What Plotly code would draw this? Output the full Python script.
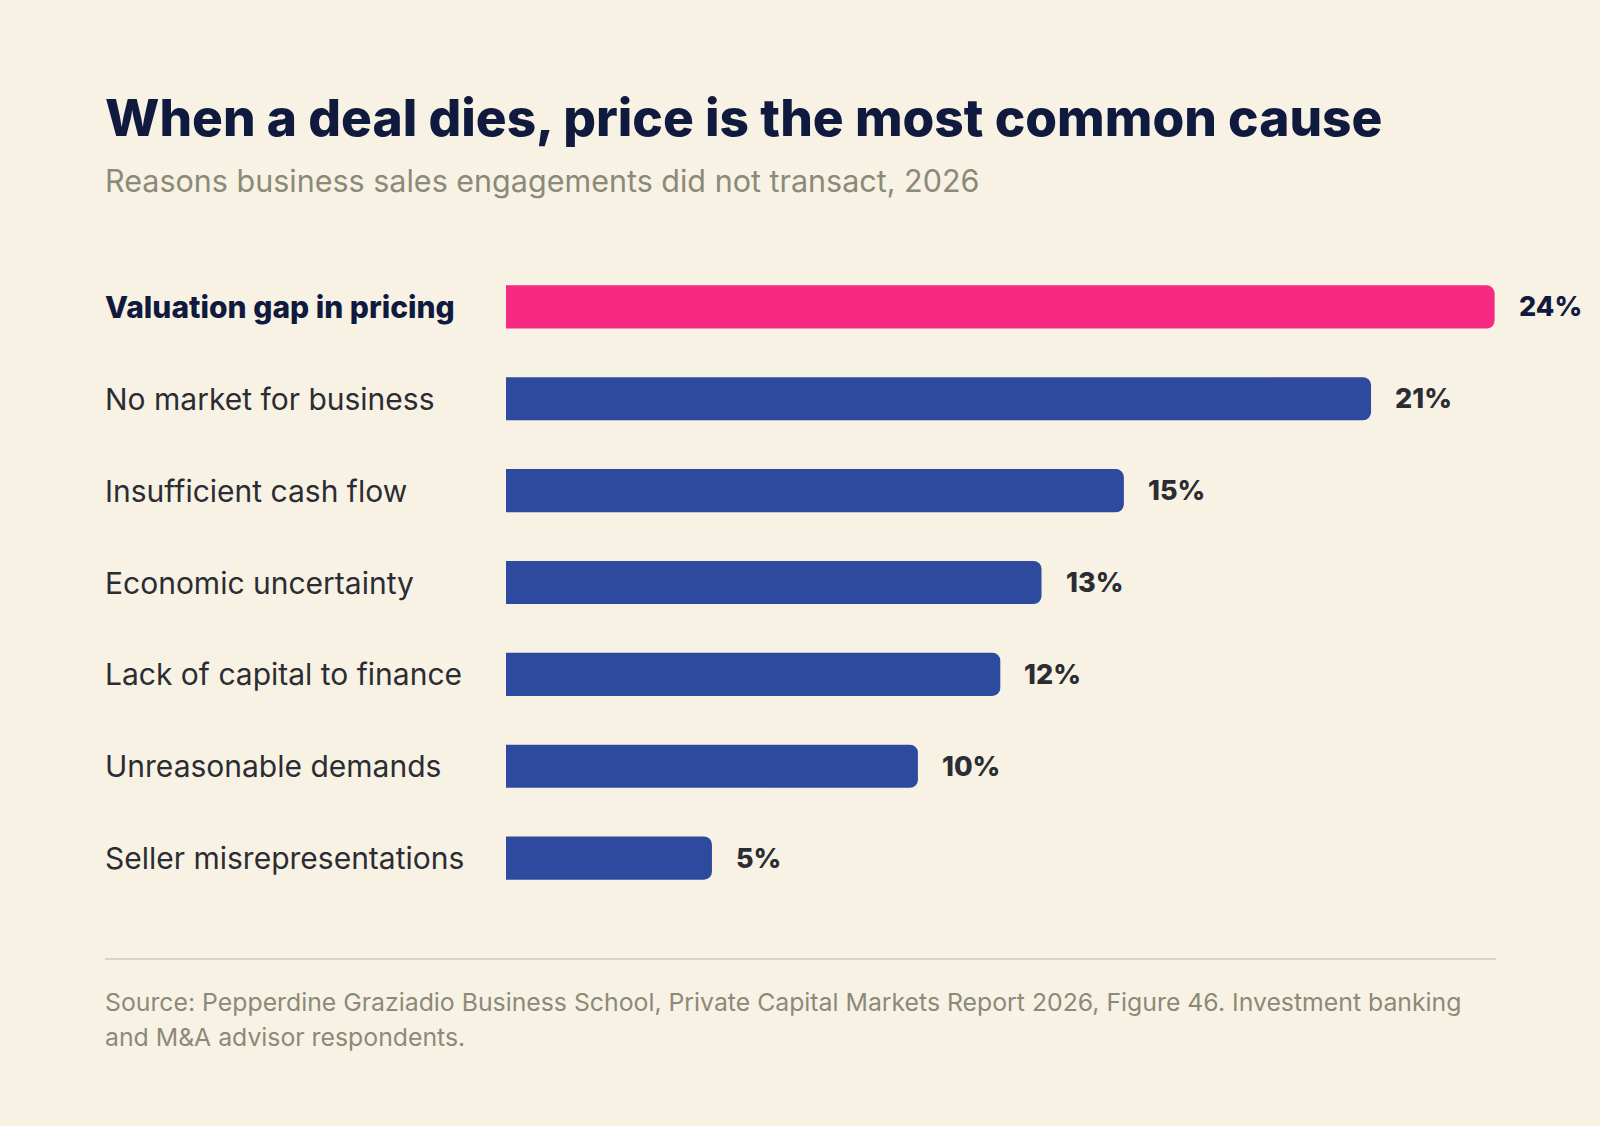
import plotly.graph_objects as go

# data
reasons = [
    "Valuation gap in pricing",
    "No market for business",
    "Insufficient cash flow",
    "Economic uncertainty",
    "Lack of capital to finance",
    "Unreasonable demands",
    "Seller misrepresentations",
]
shares = [24, 21, 15, 13, 12, 10, 5]
highlight = "Valuation gap in pricing"

title = "When a deal dies, price is the most common cause"
subtitle = "Reasons business sales engagements did not transact, 2026"
source_lines = [
    "Source: Pepperdine Graziadio Business School, Private Capital Markets Report 2026, "
    "Figure 46. Investment banking",
    "and M&A advisor respondents.",
]

# page geometry
W, H = 1600, 1126
L, R, T, B = 506, 23, 261, 222
PW, PH = W - L - R, H - T - B

BG = "#f8f2e4"
NAVY = "#101a3e"
BLUE = "#2e4a9e"
PINK = "#f72a82"
DARK = "#2b2d33"
GREY = "#8b8a78"
FONT = "Inter, 'Noto Sans', sans-serif"


def px_x(px):
    return (px - L) / PW


def px_y(py):
    return (T + PH - py) / PH


colors = [PINK if r == highlight else BLUE for r in reasons]

fig = go.Figure()
fig.add_trace(go.Bar(
    x=shares, y=reasons, orientation="h",
    marker=dict(color=colors, cornerradius=8, line=dict(width=0)),
    width=0.47, hoverinfo="skip",
))

ann = []
for r, v in zip(reasons, shares):
    hl = r == highlight
    ann.append(dict(
        x=px_x(103), xref="paper", y=r, yref="y", xanchor="left", yanchor="middle",
        text=r, showarrow=False,
        font=dict(family=FONT, size=30, color=NAVY if hl else DARK,
                  weight=800 if hl else 400),
    ))
    ann.append(dict(
        x=v, xref="x", y=r, yref="y", xanchor="left", yanchor="middle", xshift=22,
        text=f"{v}%", showarrow=False,
        font=dict(family=FONT, size=27, color=NAVY if hl else DARK, weight=800),
    ))

ann.append(dict(
    x=px_x(103), xref="paper", y=px_y(150), yref="paper", xanchor="left", yanchor="bottom",
    text=title, showarrow=False,
    font=dict(family=FONT, size=51.4, color=NAVY, weight=800),
))
ann.append(dict(
    x=px_x(103), xref="paper", y=px_y(201), yref="paper", xanchor="left", yanchor="bottom",
    text=subtitle, showarrow=False,
    font=dict(family=FONT, size=30.5, color=GREY),
))
for i, line in enumerate(source_lines):
    ann.append(dict(
        x=px_x(103), xref="paper", y=px_y(985 + 35 * i), yref="paper",
        xanchor="left", yanchor="top",
        text=line, showarrow=False,
        font=dict(family=FONT, size=24.8, color=GREY),
    ))

fig.add_shape(type="line", xref="paper", yref="paper",
              x0=px_x(105), x1=px_x(1496), y0=px_y(959), y1=px_y(959),
              line=dict(color="#d8d3c2", width=2))

fig.update_layout(
    width=W, height=H,
    margin=dict(l=L, r=R, t=T, b=B),
    paper_bgcolor=BG, plot_bgcolor=BG,
    showlegend=False,
    annotations=ann,
    xaxis=dict(range=[0, 26], visible=False, fixedrange=True),
    yaxis=dict(categoryorder="array", categoryarray=reasons[::-1],
               range=[-0.5, len(reasons) - 0.5], visible=False, fixedrange=True),
)

fig.write_html("out.html", config={"displayModeBar": False},
               post_script="document.body.style.margin='0';"
                           "document.body.style.background='" + BG + "';")
